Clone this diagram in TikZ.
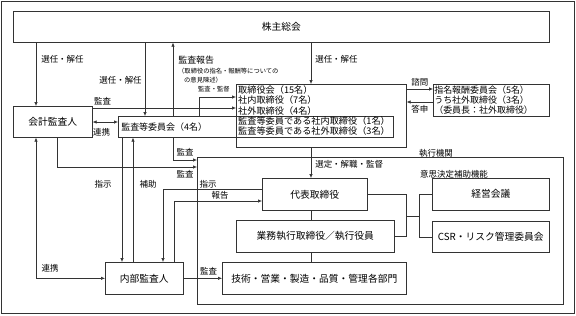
\documentclass[tikz,border=0pt]{standalone}
\usepackage{fontspec}
\setmainfont{Noto Sans CJK JP}
\usepackage{tikz}
\usetikzlibrary{arrows.meta,positioning,calc}
\tikzset{>={Latex[length=4pt,width=3.4pt]}}

\begin{document}
\begin{tikzpicture}[x=1bp,y=-1bp,
	box/.style={draw=black!80, line width=0.6pt, anchor=north west, inner sep=1bp,
		font=\fontsize{9.8}{11}\selectfont},
	lbl/.style={inner sep=0pt, font=\fontsize{8.5}{10}\selectfont},
	note/.style={inner sep=0pt, font=\fontsize{6.3}{7}\selectfont},
	line/.style={draw=black!80, line width=0.6pt},
	arr/.style={line, ->},
	arrs/.style={line, <->}]
	
	\useasboundingbox (0,0) rectangle (576,315);
	\node[box, minimum width=573bp, minimum height=312bp] (frame) at (1,1) {};
	
	% boxes
	\node[box, minimum width=536bp, minimum height=31bp] (soukai) at (13,11) {株主総会};
	\node[box, minimum width=79bp, minimum height=31bp] (kaikei) at (13,106) {会計監査人};
	\node[box, minimum width=275bp, minimum height=21bp, inner xsep=3bp, text width=269bp,
		align=left, font=\fontsize{9}{10}\selectfont] (kansa) at (118,116) {監査等委員会（4名）};
	\node[box, minimum width=170bp, minimum height=63bp] (bod) at (236,84) {};
	\node[anchor=north west, inner sep=0pt, align=left, font=\fontsize{9.2}{10.3}\selectfont]
		(bodtxt) at (238,85.5) {取締役会（15名）\\社内取締役（7名）\\社外取締役（4名）\\
		監査等委員である社内取締役（1名）\\監査等委員である社外取締役（3名）};
	\node[box, minimum width=116bp, minimum height=32bp, text width=114bp, align=left,
		font=\fontsize{9}{10}\selectfont] (shimei) at (433,84)
		{指名報酬委員会（5名）\\うち社外取締役（3名）\\（委員長：社外取締役）};
	
	\node[box, minimum width=366bp, minimum height=147bp] (exec) at (197,157) {};
	\node[lbl] (execlbl) at (436,153) {執行機関};
	\node[box, minimum width=105bp, minimum height=32bp] (daihyo) at (262,178) {代表取締役};
	\node[box, minimum width=158bp, minimum height=32bp] (gyomu) at (236,220) {業務執行取締役／執行役員};
	\node[box, minimum width=184bp, minimum height=32bp] (bumon) at (222,262) {技術・営業・製造・品質・管理各部門};
	\node[lbl, anchor=west] (ishi) at (420,174) {意思決定補助機能};
	\node[box, minimum width=117bp, minimum height=32bp] (keiei) at (432,178) {経営会議};
	\node[box, minimum width=117bp, minimum height=31bp] (csr) at (432,221) {CSR・リスク管理委員会};
	\node[box, minimum width=78bp, minimum height=32bp] (naibu) at (105,262) {内部監査人};
	
	% line positions
	\coordinate (xa) at (36,0);
	\coordinate (xb) at (145,0);
	\coordinate (xc) at (173,0);
	\coordinate (xd) at (199,0);
	\coordinate (xe) at (311,0);
	\coordinate (xf) at (57,0);
	\coordinate (xg) at (122,0);
	\coordinate (xh) at (133,0);
	\coordinate (xi) at (163,0);
	\coordinate (xj) at (174,0);
	\coordinate (xk) at (406,0);
	\coordinate (xl) at (419,0);
	\coordinate (ya) at (0,97);
	\coordinate (yb) at (0,108);
	\coordinate (yc) at (0,122);
	\coordinate (yd) at (0,89);
	\coordinate (ye) at (0,102);
	\coordinate (yf) at (0,160);
	\coordinate (yg) at (0,167);
	\coordinate (yh) at (0,189);
	\coordinate (yi) at (0,201);
	\coordinate (yj) at (0,216);
	
	% from the shareholders' meeting
	\draw[arr] (soukai.south -| xa) -- node[lbl, right=5bp, pos=0.27] (l1) {選任・解任} (kaikei.north -| xa);
	\draw[arr] (soukai.south -| xb) -- node[lbl, left=3bp, pos=0.51] (l2) {選任・解任} (kansa.north -| xb);
	\draw[arr] (soukai.south -| xe) -- node[lbl, right=4bp, pos=0.4] (l3) {選任・解任} (bod.north -| xe);
	\draw[arr] (kansa.north -| xc) -- node[lbl, anchor=west, pos=0.76, xshift=5bp, font=\fontsize{9}{10}\selectfont] (l4) {監査報告} (soukai.south -| xc);
	\node[note, anchor=west] (n1) at (178,71) {（取締役の指名・報酬等についての};
	\node[note, anchor=west] (n2) at (184,80) {の意見陳述）};
	
	% audit committee, accounting auditor, board
	\draw[arr] (kansa.north -| xd) |- (bod.west |- ya);
	\node[note, anchor=west] (l5) at (198,89) {監査・監督};
	\draw[arr] (kaikei.east |- yb) -- (bod.west |- yb);
	\node[lbl, anchor=west] (l6) at (94,101) {監査};
	\draw[arrs] (kaikei.east |- yc) -- (kansa.west |- yc);
	\node[lbl, anchor=west] (l7) at (93,132) {連携};
	\draw[arr] (bod.east |- yd) -- node[lbl, above=3bp] (l8) {諮問} (shimei.west |- yd);
	\draw[arr] (shimei.west |- ye) -- node[lbl, below=3bp] (l9) {答申} (bod.east |- ye);
	
	% audits of the executive body
	\draw[arr] (kansa.south -| xc) |- (exec.west |- yf);
	\node[lbl] (l10) at (185,152) {監査};
	\draw[arr] (kaikei.south -| xf) |- (exec.west |- yg);
	\node[lbl] (l11) at (185,174) {監査};
	
	% internal auditor
	\draw[arr] (kansa.south -| xg) -- (naibu.north -| xg);
	\node[lbl] (l12) at (103,184) {指示};
	\draw[arr] (naibu.north -| xh) -- (kansa.south -| xh);
	\node[lbl] (l13) at (148,184) {補助};
	\draw[arrs] (kaikei.south -| xa) |- (naibu.west);
	\node[lbl] (l14) at (50,268) {連携};
	\draw[arr] (naibu.east) -- node[lbl, above=3bp, pos=0.65] (l15) {監査} (bumon.west);
	\draw[arr] (daihyo.west |- yh) -| (naibu.north -| xi);
	\node[lbl] (l16) at (208,184) {指示};
	\draw[arr] (naibu.north -| xj) |- (daihyo.west |- yi);
	\node[lbl] (l17) at (220,195) {報告};
	
	% executive line
	\draw[arr] (bod.south -| xe) -- node[lbl, right=4bp, pos=0.55] (l18) {選定・解職・監督} (daihyo.north -| xe);
	\draw[line] (daihyo.south -| xe) -- (gyomu.north -| xe);
	\draw[line] (gyomu.south -| xe) -- (bumon.north -| xe);
	
	% decision support bracket
	\draw[line] (daihyo.east) -| (xk |- gyomu.east) -- (gyomu.east);
	\draw[line] (xk |- yj) -- (xl |- yj);
	\draw[line] (keiei.west) -| (xl |- csr.west) -- (csr.west);
\end{tikzpicture}
\end{document}
